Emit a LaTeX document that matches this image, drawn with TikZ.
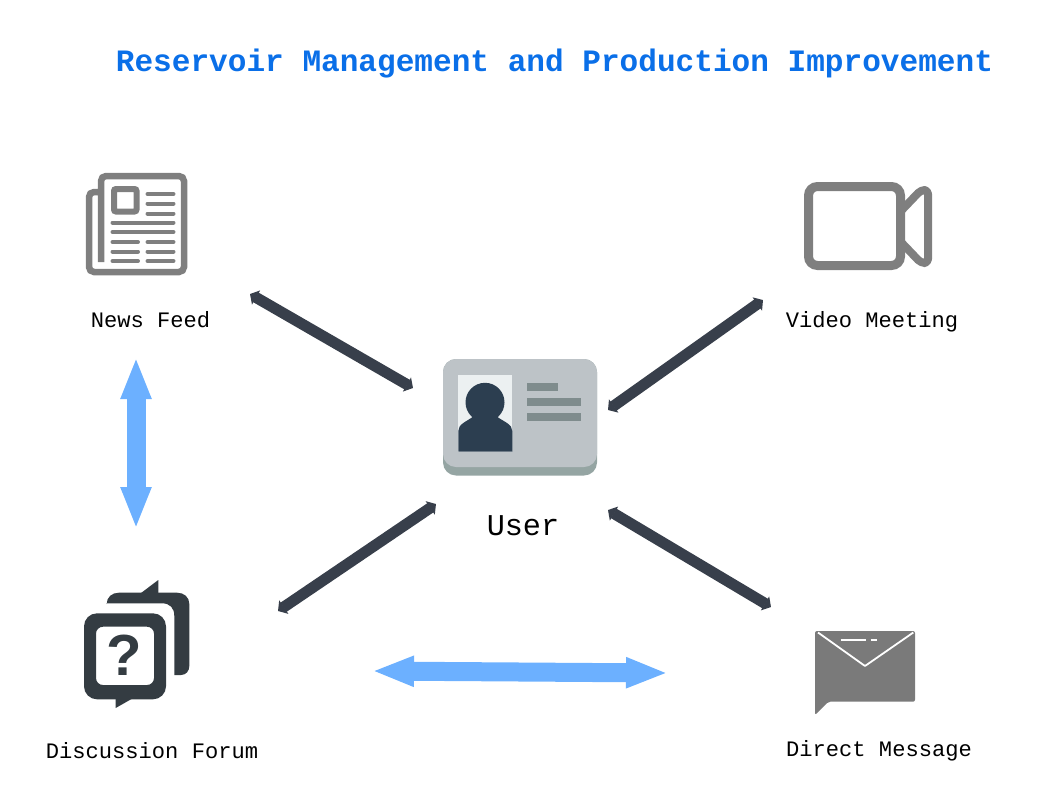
\documentclass[tikz,border=0pt]{standalone}
\usepackage{fontspec}
\setmainfont{Liberation Sans}
\setmonofont{Liberation Mono}
\usetikzlibrary{arrows.meta,positioning}
\definecolor{titleblue}{HTML}{0A6FE8}
\definecolor{icongray}{HTML}{7F7F7F}
\definecolor{mailgray}{HTML}{7A7A7A}
\definecolor{forumdark}{HTML}{343C42}
\definecolor{arrowdark}{HTML}{383F4B}
\definecolor{arrowblue}{HTML}{6CB0FF}
\definecolor{cardlight}{HTML}{BDC3C7}
\definecolor{carddark}{HTML}{95A5A3}
\definecolor{cardline}{HTML}{7F8C8D}
\definecolor{cardphoto}{HTML}{ECF0F1}
\definecolor{cardperson}{HTML}{2C3E50}
\begin{document}
\begin{tikzpicture}[
    x=1pt, y=-1pt,
    title/.style={font=\ttfamily\bfseries\fontsize{31.1}{34}\selectfont, text=titleblue, inner sep=0pt},
    lbl/.style={font=\ttfamily\fontsize{22.1}{24}\selectfont, text=black, inner sep=0pt},
    conn/.style={{Triangle[length=7pt,width=16pt]}-{Triangle[length=7pt,width=16pt]}, line width=11pt, draw=arrowdark},
    pipe/.style={{Triangle[length=42pt,width=28pt]}-{Triangle[length=42pt,width=28pt]}, line width=19pt, draw=arrowblue},
    news/.style={draw=icongray, line width=6.5pt, rounded corners=5pt},
    rows/.style={draw=icongray, line width=4pt, line cap=round},
    bars/.style={fill=cardline}
  ]
    \useasboundingbox (0,0) rectangle (1063,809);
    \node[title] (heading) at (554.5,64) {Reservoir Management and Production Improvement};

    \draw[news] (101,262) -- (101,176) -- (184,176) -- (184,272) -- (89,272) -- (89,192) -- (101,192);
    \draw[draw=icongray, line width=6pt, rounded corners=2pt] (114,189) rectangle (136.5,211.5);
    \foreach \y in {194,203.5,213.5} \draw[rows] (147.5,\y) -- (173.5,\y);
    \foreach \y in {222.5,232} \draw[rows] (112.5,\y) -- (173.5,\y);
    \foreach \y in {242,251.5,261} {
      \draw[rows] (112.5,\y) -- (138,\y);
      \draw[rows] (147.5,\y) -- (173.5,\y);
    }
    \node[lbl] (newsfeed) at (150.5,320) {News Feed};

    \draw[draw=icongray, line width=9pt, rounded corners=9pt] (808.5,186.5) rectangle (900.5,265.5);
    \draw[draw=icongray, line width=8pt, line join=round, rounded corners=4pt] (900,212) -- (921,190) -- (928,190) -- (928,263) -- (921,263) -- (900,241);
    \node[lbl] (videomeeting) at (872,322) {Video Meeting};

    \fill[carddark, rounded corners=13pt] (443,359) rectangle (597,475.5);
    \fill[cardlight, rounded corners=13pt] (443,359) rectangle (597,467);
    \fill[cardphoto] (458.3,375) rectangle (512.3,451.7);
    \fill[cardperson] (485,402.3) circle (19.5);
    \fill[cardperson] (458.3,451.7) -- (458.3,431) .. controls (458.3,424) and (466,422) .. (474,416) -- (496,416) .. controls (504,422) and (512.3,424) .. (512.3,431) -- (512.3,451.7) -- cycle;
    \fill[bars] (527.3,382.7) rectangle (558.3,390.7);
    \fill[bars] (527.3,398.3) rectangle (581,405.7);
    \fill[bars] (527.3,413.3) rectangle (581,421);
    \node[font=\ttfamily\fontsize{30.2}{32}\selectfont, inner sep=0pt] (user) at (523,526) {User};

    \fill[forumdark] (106.7,604) .. controls (106.7,597) and (112,592.7) .. (119,592.7) -- (177,592.7) .. controls (184,592.7) and (189.3,597) .. (189.3,604) -- (189.3,666) .. controls (189.3,671) and (186,675) .. (181,675) -- (174.3,675) -- (174.3,616) .. controls (174.3,608) and (170,603.3) .. (162,603.3) -- (106.7,603.3) -- cycle;
    \fill[forumdark] (141,593) -- (158.3,580) -- (158.3,593) -- cycle;
    \fill[forumdark, rounded corners=13pt, even odd rule] (84,613.3) rectangle (166,699.3) [rounded corners=7pt] (96,626.7) rectangle (154,685);
    \fill[forumdark] (115.7,698) -- (115.7,708) -- (133.3,698) -- cycle;
    \node[font=\bfseries\fontsize{58}{60}\selectfont, text=forumdark, inner sep=0pt] (qmark) at (124,655) {?};
    \node[lbl] (forum) at (152,751) {Discussion Forum};

    \fill[mailgray, rounded corners=2pt] (815,631) -- (915,631) -- (915,701.7) -- (828.3,701.7) -- (815,715) -- cycle;
    \draw[white, line width=1.8pt, line join=round] (818,632.5) -- (865,666) -- (913.3,632.5);
    \draw[white, line width=1.8pt] (840.7,640) -- (865.7,640);
    \draw[white, line width=1.8pt] (870.7,640) -- (877.3,640);
    \node[lbl] (directmessage) at (879,751) {Direct Message};

    \coordinate (newsport) at (250,294);
    \coordinate (usernw) at (413,388);
    \coordinate (videoport) at (763,300);
    \coordinate (userne) at (608,410);
    \coordinate (forumport) at (278,611);
    \coordinate (usersw) at (436,504);
    \coordinate (mailport) at (771,607);
    \coordinate (userse) at (608,510);
    \coordinate (newsdown) at (136,357);
    \coordinate (forumup) at (136,529);
    \coordinate (forumright) at (372,671);
    \coordinate (mailleft) at (668,673);
    \draw[conn] (newsport) -- (usernw);
    \draw[conn] (videoport) -- (userne);
    \draw[conn] (forumport) -- (usersw);
    \draw[conn] (mailport) -- (userse);
    \draw[pipe] (newsdown) -- (forumup);
    \draw[pipe] (forumright) -- (mailleft);
  \end{tikzpicture}
\end{document}
